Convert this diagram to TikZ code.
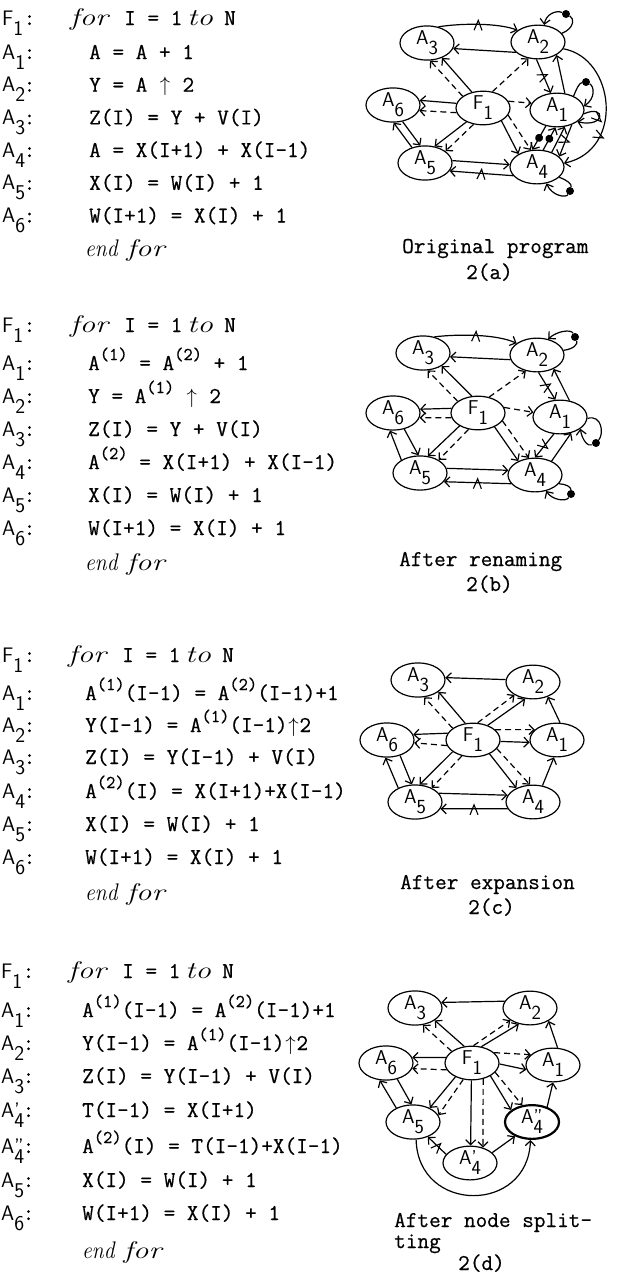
\documentclass[tikz,border=0pt]{standalone}
\usepackage{fontspec}
\usepackage{graphicx}
\usetikzlibrary{shapes.geometric,arrows.meta,decorations.markings}
\newfontfamily\tfam{Latin Modern Mono}[FakeBold=0.6]
\newcommand\tts{\tfam\fontsize{22.6}{26}\selectfont}
\newcommand\sps[1]{\raisebox{10pt}{\fontsize{18}{18}\selectfont #1}}
\newcommand\upar{\makebox[11.87pt]{\fontsize{20}{20}\selectfont$\uparrow$}}
\newcommand\itw[2][1.3]{\scalebox{#1}[1]{\rmfamily\itshape\fontsize{24}{24}\selectfont #2}}
\newcommand\clab[2]{\makebox[0pt][l]{\sffamily\fontsize{21}{21}\selectfont #1\raisebox{-10pt}{#2}}\hspace{21.5pt}{\tts:}}
\newcommand\nlab[2]{{\sffamily\fontsize{20}{20}\selectfont #1\raisebox{-10pt}{#2}}}
\newcommand\forln{\makebox[54pt][l]{\itw{for}}\makebox[63pt][l]{\tts I = 1}\makebox[37pt][l]{\itw{to}}{\tts N}}
\newcommand\efor{\itw[0.9]{end}\hspace{9pt}\itw{for}}
\begin{document}
\begin{tikzpicture}[x=1pt,y=-1pt,
  nd/.style={draw, ellipse, line width=1.2pt, minimum width=54pt, minimum height=32pt, inner sep=0pt},
  ed/.style={line width=1.2pt, -{Straight Barb[length=5pt,width=10pt]}},
  dsh/.style={ed, dash pattern=on 6pt off 4pt},
  pl/.style={line width=1.2pt},
  dotn/.style={circle, fill=black, inner sep=0pt, minimum size=8pt},
  mkA/.style={postaction={decorate, decoration={markings, mark=at position #1 with {\draw[-, line width=1.1pt, solid] (-4,6) -- (0,-4) -- (4,6);}}}},
  mkA/.default=0.5,
  mkB/.style={postaction={decorate, decoration={markings, mark=at position #1 with {\draw[-, line width=1.1pt, solid] (-4,-6) -- (0,4) -- (4,-6);}}}},
  mkB/.default=0.5,
  dotm/.style={postaction={decorate, decoration={markings, mark=at position #1 with {\fill (0,0) circle (4pt);}}}},
  dotm/.default=0.5,
  txt/.style={anchor=base west, inner sep=0pt},
]
\fill[white] (0,0) rectangle (618,1275);
\useasboundingbox (0,0) rectangle (618,1275);

% ---------------- Panel (a) text
\node[txt] (ta0l) at (2,25) {\clab{F}{1}};
\node[txt] (ta0) at (70,25) {\forln};
\node[txt] (ta1l) at (2,59) {\clab{A}{1}};
\node[txt] (ta1) at (89,59) {\tts A = A + 1};
\node[txt] (ta2l) at (2,91.7) {\clab{A}{2}};
\node[txt] (ta2) at (89,91.7) {\tts Y = A \upar\ 2};
\node[txt] (ta3l) at (2,124.4) {\clab{A}{3}};
\node[txt] (ta3) at (89,124.4) {\tts Z(I) = Y + V(I)};
\node[txt] (ta4l) at (2,157) {\clab{A}{4}};
\node[txt] (ta4) at (89,157) {\tts A = X(I+1) + X(I-1)};
\node[txt] (ta5l) at (2,189.8) {\clab{A}{5}};
\node[txt] (ta5) at (89,189.8) {\tts X(I) = W(I) + 1};
\node[txt] (ta6l) at (2,222.5) {\clab{A}{6}};
\node[txt] (ta6) at (89,222.5) {\tts W(I+1) = X(I) + 1};
\node[txt] (ta7) at (85,256) {\efor};
\node[txt] (tac1) at (402,253) {\tts Original program};
\node[txt] (tac2) at (466,279) {\tts 2(a)};

% ---------------- Panel (a) graph
\node[nd] (a3) at (427,43) {\nlab{A}{3}};
\node[nd] (a2) at (538,42) {\nlab{A}{2}};
\node[nd] (a6) at (393,105) {\nlab{A}{6}};
\node[nd] (af) at (483,108) {\nlab{F}{1}};
\node[nd] (a1) at (557,110) {\nlab{A}{1}};
\node[nd] (a5) at (425,163) {\nlab{A}{5}};
\node[nd] (a4) at (537,167) {\nlab{A}{4}};
\draw[ed, mkA] (a3.55) .. controls (462,23) and (498,23) .. (a2.150);
\draw[ed] (a2.205) -- (a3.-12);
\node[dotn] (ad2) at (566,14) {};
\draw[pl] (a2.20) .. controls (575,28) and (574,18) .. (ad2);
\draw[ed] (ad2) .. controls (556,10) and (546,14) .. (a2.70);
\draw[dsh] (af.150) -- (a3.-80);
\draw[ed] (af.125) -- (a3.-45);
\draw[dsh] (af.60) -- (a2.-120);
\draw[ed] (af.170) -- (a6.10);
\draw[dsh] (af.190) -- (a6.-12);
\draw[dsh] (af.15) -- (a1.165);
\draw[ed] (af.-140) -- (a5.60);
\draw[dsh] (af.-120) -- (a5.30);
\draw[ed] (af.-35) -- (a4.145);
\draw[dsh] (af.-16) -- (a4.110);
\draw[ed] (a5.130) -- (a6.-88);
\draw[ed] (a6.-60) -- (a5.105);
\draw[ed] (a5.5) -- (a4.175);
\draw[ed, mkB] (a4.200) -- (a5.-18);
\draw[ed, mkA] (a2.-95) -- (a1.110);
\draw[ed] (a1.65) -- (a2.-35);
\node[dotn] (ad1) at (586,82) {};
\draw[pl] (a1.40) .. controls (576,90) and (579,83) .. (ad1);
\draw[ed] (ad1) .. controls (594,86) and (596,98) .. (a1.8);
\draw[ed, mkA] (a1.-8) .. controls (606,104) and (606,128) .. (a1.-30);
\draw[ed, mkA=0.7] (a2.-15) .. controls (615,58) and (625,150) .. (a4.8);
\draw[ed, dotm] (a1.-125) -- (a4.105);
\draw[ed, dotm] (a4.70) -- (a1.-95);
\draw[ed] (a4.45) -- (a1.-65);
\draw[ed, mkA] (a1.-45) -- (a4.25);
\node[dotn] (ad4) at (570,191) {};
\draw[pl] (a4.-25) .. controls (567,180) and (572,184) .. (ad4);
\draw[ed] (ad4) .. controls (566,198) and (552,196) .. (a4.-60);

% ---------------- Panel (b) text
\node[txt] (tb0l) at (2,332) {\clab{F}{1}};
\node[txt] (tb0) at (70,332) {\forln};
\node[txt] (tb1l) at (2,370) {\clab{A}{1}};
\node[txt] (tb1) at (88,370) {\tts A\sps{(1)} = A\sps{(2)} + 1};
\node[txt] (tb2l) at (2,403) {\clab{A}{2}};
\node[txt] (tb2) at (88,403) {\tts Y = A\sps{(1)} \upar\ 2};
\node[txt] (tb3l) at (2,436) {\clab{A}{3}};
\node[txt] (tb3) at (88,436) {\tts Z(I) = Y + V(I)};
\node[txt] (tb4l) at (2,469) {\clab{A}{4}};
\node[txt] (tb4) at (88,469) {\tts A\sps{(2)} = X(I+1) + X(I-1)};
\node[txt] (tb5l) at (2,502) {\clab{A}{5}};
\node[txt] (tb5) at (88,502) {\tts X(I) = W(I) + 1};
\node[txt] (tb6l) at (2,535) {\clab{A}{6}};
\node[txt] (tb6) at (88,535) {\tts W(I+1) = X(I) + 1};
\node[txt] (tb7) at (85,570) {\efor};
\node[txt] (tbc1) at (399,566) {\tts After renaming};
\node[txt] (tbc2) at (466,591) {\tts 2(b)};

% ---------------- Panel (b) graph
\node[nd] (b3) at (423,353) {\nlab{A}{3}};
\node[nd] (b2) at (537,355) {\nlab{A}{2}};
\node[nd] (b6) at (393,413) {\nlab{A}{6}};
\node[nd] (bf) at (478,413) {\nlab{F}{1}};
\node[nd] (b1) at (560,417) {\nlab{A}{1}};
\node[nd] (b5) at (420,473) {\nlab{A}{5}};
\node[nd] (b4) at (535,475) {\nlab{A}{4}};
\draw[ed, mkA] (b3.55) .. controls (458,334) and (496,334) .. (b2.150);
\draw[ed] (b2.190) -- (b3.-8);
\node[dotn] (bd2) at (575,337) {};
\draw[pl] (b2.10) .. controls (574,349) and (578,344) .. (bd2);
\draw[ed] (bd2) .. controls (571,329) and (557,331) .. (b2.55);
\draw[dsh] (bf.150) -- (b3.-75);
\draw[ed] (bf.110) -- (b3.-35);
\draw[dsh] (bf.55) -- (b2.-125);
\draw[ed] (bf.170) -- (b6.8);
\draw[dsh] (bf.190) -- (b6.-10);
\draw[dsh] (bf.12) -- (b1.170);
\draw[ed, mkA] (b2.-85) -- (b1.105);
\draw[ed] (b1.60) -- (b2.-40);
\node[dotn] (bd1) at (596,443) {};
\draw[pl] (b1.-3) .. controls (602,414) and (604,434) .. (bd1);
\draw[ed] (bd1) .. controls (588,447) and (582,440) .. (b1.-30);
\draw[ed] (bf.-145) -- (b5.65);
\draw[dsh] (bf.-120) -- (b5.35);
\draw[ed] (bf.-40) -- (b4.140);
\draw[dsh] (bf.-18) -- (b4.110);
\draw[ed] (b4.40) -- (b1.-55);
\draw[ed, mkA] (b1.-110) -- (b4.90);
\draw[ed] (b5.145) -- (b6.-100);
\draw[ed] (b6.-55) -- (b5.95);
\draw[ed] (b5.10) -- (b4.170);
\draw[ed, mkB] (b4.200) -- (b5.-20);
\node[dotn] (bd4) at (571,494) {};
\draw[pl] (b4.-20) .. controls (566,484) and (571,487) .. (bd4);
\draw[ed] (bd4) .. controls (566,502) and (552,500) .. (b4.-55);

% ---------------- Panel (c) text
\node[txt] (tc0l) at (2,662) {\clab{F}{1}};
\node[txt] (tc0) at (68,662) {\forln};
\node[txt] (tc1l) at (2,700) {\clab{A}{1}};
\node[txt] (tc1) at (85,700) {\tts A\sps{(1)}(I-1) = A\sps{(2)}(I-1)+1};
\node[txt] (tc2l) at (2,732) {\clab{A}{2}};
\node[txt] (tc2) at (85,732) {\tts Y(I-1) = A\sps{(1)}(I-1)\upar 2};
\node[txt] (tc3l) at (2,764) {\clab{A}{3}};
\node[txt] (tc3) at (85,764) {\tts Z(I) = Y(I-1) + V(I)};
\node[txt] (tc4l) at (2,798) {\clab{A}{4}};
\node[txt] (tc4) at (85,798) {\tts A\sps{(2)}(I) = X(I+1)+X(I-1)};
\node[txt] (tc5l) at (2,831) {\clab{A}{5}};
\node[txt] (tc5) at (85,831) {\tts X(I) = W(I) + 1};
\node[txt] (tc6l) at (2,864) {\clab{A}{6}};
\node[txt] (tc6) at (85,864) {\tts W(I+1) = X(I) + 1};
\node[txt] (tc7) at (85,900) {\efor};
\node[txt] (tcc1) at (400,889) {\tts After expansion};
\node[txt] (tcc2) at (468,914) {\tts 2(c)};

% ---------------- Panel (c) graph
\node[nd] (c3) at (418,680) {\nlab{A}{3}};
\node[nd] (c2) at (533,682) {\nlab{A}{2}};
\node[nd] (c6) at (387,740) {\nlab{A}{6}};
\node[nd] (cf) at (473,740) {\nlab{F}{1}};
\node[nd] (c1) at (557,740) {\nlab{A}{1}};
\node[nd] (c5) at (415,802) {\nlab{A}{5}};
\node[nd] (c4) at (533,802) {\nlab{A}{4}};
\draw[ed] (c2.175) -- (c3.5);
\draw[dsh] (cf.150) -- (c3.-70);
\draw[ed] (cf.115) -- (c3.-30);
\draw[dsh] (cf.75) -- (c2.-145);
\draw[ed] (cf.45) -- (c2.-115);
\draw[ed] (cf.165) -- (c6.12);
\draw[dsh] (cf.192) -- (c6.-6);
\draw[dsh] (cf.25) -- (c1.155);
\draw[ed] (cf.-3) -- (c1.185);
\draw[ed] (c1.80) -- (c2.-45);
\draw[ed] (cf.-150) -- (c5.75);
\draw[dsh] (cf.-125) -- (c5.40);
\draw[ed] (cf.-40) -- (c4.140);
\draw[dsh] (cf.-20) -- (c4.100);
\draw[ed] (c4.60) -- (c1.-100);
\draw[ed] (c5.140) -- (c6.-95);
\draw[ed] (c6.-50) -- (c5.100);
\draw[ed] (c5.20) -- (c4.165);
\draw[ed, mkB] (c4.195) -- (c5.-15);

% ---------------- Panel (d) text
\node[txt] (td0l) at (1,978) {\clab{F}{1}};
\node[txt] (td0) at (68,978) {\forln};
\node[txt] (td1l) at (1,1017) {\clab{A}{1}};
\node[txt] (td1) at (82,1017) {\tts A\sps{(1)}(I-1) = A\sps{(2)}(I-1)+1};
\node[txt] (td2l) at (1,1050) {\clab{A}{2}};
\node[txt] (td2) at (82,1050) {\tts Y(I-1) = A\sps{(1)}(I-1)\upar 2};
\node[txt] (td3l) at (1,1083) {\clab{A}{3}};
\node[txt] (td3) at (82,1083) {\tts Z(I) = Y(I-1) + V(I)};
\node[txt] (td4l) at (1,1117) {\clab{A\rlap{'}}{4}};
\node[txt] (td4) at (82,1117) {\tts T(I-1) = X(I+1)};
\node[txt] (td5l) at (1,1153) {\clab{A\rlap{''}}{4}};
\node[txt] (td5) at (82,1153) {\tts A\sps{(2)}(I) = T(I-1)+X(I-1)};
\node[txt] (td6l) at (1,1187) {\clab{A}{5}};
\node[txt] (td6) at (82,1187) {\tts X(I) = W(I) + 1};
\node[txt] (td7l) at (1,1220) {\clab{A}{6}};
\node[txt] (td7) at (82,1220) {\tts W(I+1) = X(I) + 1};
\node[txt] (td8) at (82,1258) {\efor};
\node[txt] (tdc1) at (394,1227) {\tts After node split-};
\node[txt] (tdc2) at (394,1248) {\tts ting};
\node[txt] (tdc3) at (458,1270) {\tts 2(d)};

% ---------------- Panel (d) graph
\node[nd] (d3) at (415,1008) {\nlab{A}{3}};
\node[nd] (d2) at (530,1008) {\nlab{A}{2}};
\node[nd] (d6) at (386,1063) {\nlab{A}{6}};
\node[nd] (df) at (472,1063) {\nlab{F}{1}};
\node[nd] (d1) at (553,1065) {\nlab{A}{1}};
\node[nd] (d5) at (413,1122) {\nlab{A}{5}};
\node[nd, line width=2.2pt] (dq) at (532,1122) {\nlab{A\rlap{''}}{4}};
\node[nd] (dp) at (470,1163) {\nlab{A\rlap{'}}{4}};
\draw[ed] (d2.165) -- (d3.12);
\draw[dsh] (df.150) -- (d3.-65);
\draw[ed] (df.115) -- (d3.-32);
\draw[dsh] (df.85) -- (d2.-148);
\draw[ed] (df.60) -- (d2.-125);
\draw[ed] (df.168) -- (d6.12);
\draw[dsh] (df.195) -- (d6.-12);
\draw[dsh] (df.25) -- (d1.155);
\draw[ed] (df.-2) -- (d1.190);
\draw[ed] (d1.75) -- (d2.-35);
\draw[ed] (df.-140) -- (d5.40);
\draw[dsh] (df.-118) -- (d5.15);
\draw[ed] (df.-92) -- (dp.88);
\draw[dsh] (df.-55) -- (dp.50);
\draw[ed] (df.-35) -- (dq.150);
\draw[dsh] (df.-22) -- (dq.120);
\draw[ed] (dq.45) -- (d1.-90);
\draw[ed] (d5.140) -- (d6.-110);
\draw[ed] (d6.-55) -- (d5.95);
\draw[ed, mkB=0.45] (dp.160) -- (d5.-45);
\draw[ed] (dp.25) -- (dq.-140);
\draw[ed] (d5.-80) .. controls (418,1214) and (528,1214) .. (dq.-95);
\end{tikzpicture}
\end{document}
